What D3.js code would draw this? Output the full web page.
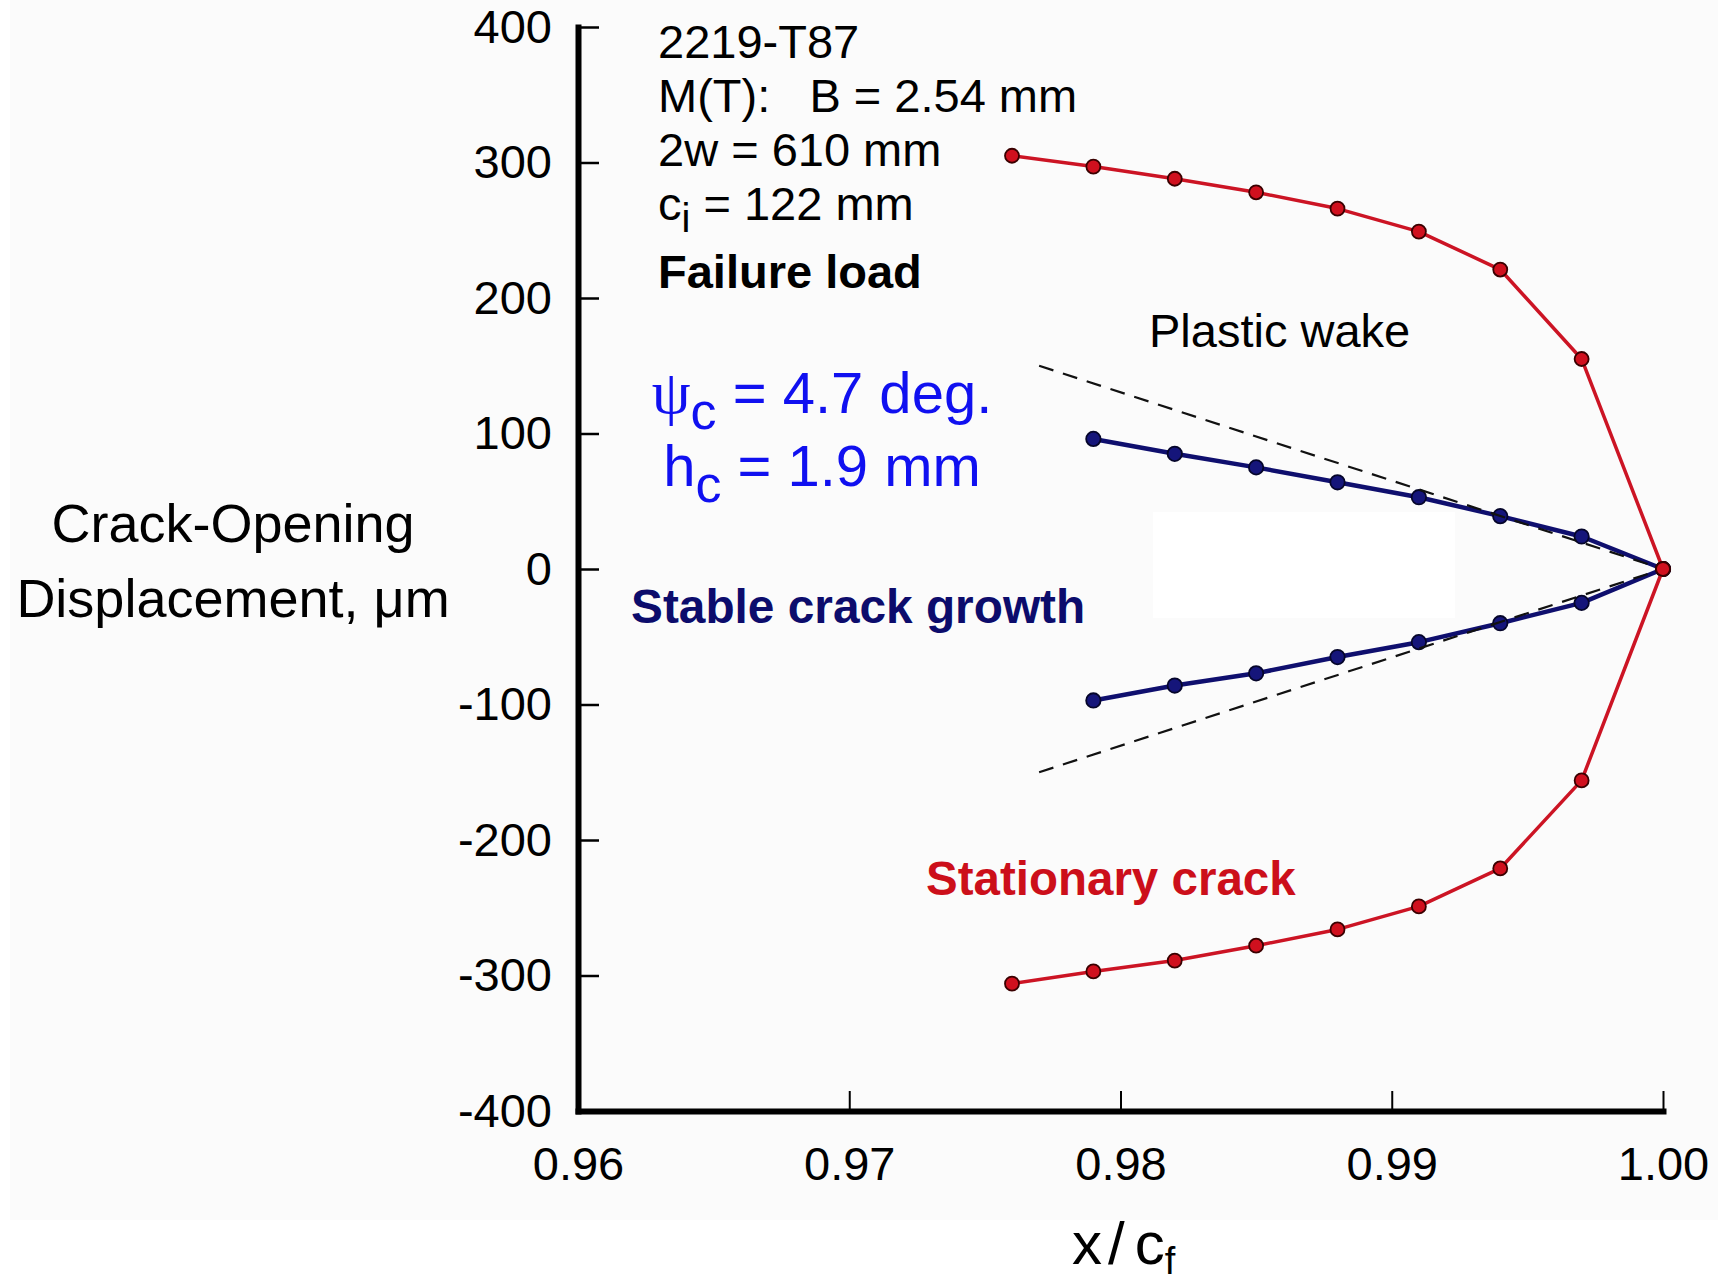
<!DOCTYPE html>
<html>
<head>
<meta charset="utf-8">
<script src="https://cdn.jsdelivr.net/npm/d3@7"></script>
<style>
  body { margin: 0; background: #fff; }
  text { font-family: "Liberation Sans", Arial, sans-serif; }
</style>
</head>
<body>
<svg id="chart" width="1718" height="1284"></svg>
<script>
// x/c_f positions of the measured points
var xStationary = [0.976, 0.979, 0.982, 0.985, 0.988, 0.991, 0.994, 0.997, 1.000];
var codStationaryUpper = [305, 297, 288, 278, 266, 249, 221, 155, 0];
var codStationaryLower = [-306, -297, -289, -278, -266, -249, -221, -156, 0];

var xGrowth = [0.979, 0.982, 0.985, 0.988, 0.991, 0.994, 0.997, 1.000];
var codGrowthUpper = [96, 85, 75, 64, 53, 39, 24, 0];
var codGrowthLower = [-97, -86, -77, -65, -54, -40, -25, 0];

// CTOA reference (dashed)
var xCtoa = [0.977, 1.000];
var codCtoaUpper = [150, 0];
var codCtoaLower = [-150, 0];

var xTicks = [0.96, 0.97, 0.98, 0.99, 1.00];
var yTicks = [-400, -300, -200, -100, 0, 100, 200, 300, 400];

var svg = d3.select('#chart');

// faint scan background
svg.append('rect').attr('x', 10).attr('y', 0).attr('width', 1708).attr('height', 1220).attr('fill', '#fbfbfb');
svg.append('rect').attr('x', 1153).attr('y', 512).attr('width', 302).attr('height', 106).attr('fill', '#ffffff');

var x = d3.scaleLinear().domain([0.96, 1.0]).range([578, 1663]);
var y = d3.scaleLinear().domain([-400, 400]).range([1111, 27]);

var yAxis = svg.append('g')
  .attr('transform', 'translate(' + x(0.96) + ',0)')
  .call(d3.axisLeft(y).tickValues(yTicks).tickSizeInner(-21).tickSizeOuter(0)
    .tickPadding(26).tickFormat(function(d) { return String(d); }));

var xAxis = svg.append('g')
  .attr('transform', 'translate(0,' + y(-400) + ')')
  .call(d3.axisBottom(x).tickValues(xTicks).tickSizeInner(-20).tickSizeOuter(0)
    .tickPadding(36).tickFormat(d3.format('.2f')));

[yAxis, xAxis].forEach(function(ax) {
  ax.select('.domain').attr('stroke', '#000').attr('stroke-width', 6).attr('stroke-linecap', 'square');
  ax.selectAll('.tick line').attr('stroke', '#000').attr('stroke-width', 2.5);
  ax.selectAll('.tick text').attr('fill', '#000')
    .style('font-family', '"Liberation Sans", Arial, sans-serif').style('font-size', '47px');
});
xAxis.selectAll('.tick line').attr('stroke-width', 2);

var line = d3.line().x(function(d) { return x(d[0]); }).y(function(d) { return y(d[1]); });

function series(xs, ys, color, width, markFill, markStroke, r) {
  var pts = d3.zip(xs, ys);
  svg.append('path').datum(pts).attr('d', line)
    .attr('fill', 'none').attr('stroke', color).attr('stroke-width', width).attr('stroke-linejoin', 'round');
  svg.append('g').selectAll('circle').data(pts).enter().append('circle')
    .attr('cx', function(d) { return x(d[0]); })
    .attr('cy', function(d) { return y(d[1]); })
    .attr('r', r).attr('fill', markFill).attr('stroke', markStroke).attr('stroke-width', 1.8);
}

// stable crack growth
series(xGrowth, codGrowthUpper, '#0f0f6e', 4.5, '#15157a', '#05052a', 7.2);
series(xGrowth, codGrowthLower, '#0f0f6e', 4.5, '#15157a', '#05052a', 7.2);

// dashed CTOA lines
[codCtoaUpper, codCtoaLower].forEach(function(ys) {
  svg.append('path').datum(d3.zip(xCtoa, ys)).attr('d', line)
    .attr('fill', 'none').attr('stroke', '#111').attr('stroke-width', 2.2).attr('stroke-dasharray', '15,10');
});

// stationary crack
series(xStationary, codStationaryUpper, '#cc1424', 3.5, '#d0101e', '#3a0000', 7);
series(xStationary, codStationaryLower, '#cc1424', 3.5, '#d0101e', '#3a0000', 7);

// info block
var info = svg.append('g').attr('font-size', 47).attr('fill', '#000');
info.append('text').attr('x', 658).attr('y', 58).text('2219-T87');
info.append('text').attr('x', 658).attr('y', 112).attr('xml:space', 'preserve').style('white-space', 'pre')
  .text('M(T):   B = 2.54 mm');
info.append('text').attr('x', 658).attr('y', 166).text('2w = 610 mm');
var ci = info.append('text').attr('x', 658).attr('y', 220);
ci.append('tspan').text('c');
ci.append('tspan').attr('dy', 12).attr('font-size', 40).text('i');
ci.append('tspan').attr('dy', -12).text(' = 122 mm');
info.append('text').attr('x', 658).attr('y', 288).attr('font-weight', 'bold').text('Failure load');

svg.append('text').attr('x', 1149).attr('y', 347).attr('font-size', 47).attr('fill', '#000').text('Plastic wake');

// CTOA / height annotation
var ann = svg.append('g').attr('font-size', 58).attr('fill', '#1010f0').attr('text-anchor', 'middle');
var l1 = ann.append('text').attr('x', 822).attr('y', 413);
l1.append('tspan').style('font-family', '"Liberation Serif", "DejaVu Serif", serif').attr('font-size', 62).text('ψ');
l1.append('tspan').attr('dy', 16).attr('font-size', 52).text('c');
l1.append('tspan').attr('dy', -16).text(' = 4.7 deg.');
var l2 = ann.append('text').attr('x', 822).attr('y', 486);
l2.append('tspan').text('h');
l2.append('tspan').attr('dy', 16).attr('font-size', 52).text('c');
l2.append('tspan').attr('dy', -16).text(' = 1.9 mm');

svg.append('text').attr('x', 631).attr('y', 623).attr('font-size', 47.8).attr('font-weight', 'bold')
  .attr('fill', '#0c0c6c').text('Stable crack growth');
svg.append('text').attr('x', 926).attr('y', 895).attr('font-size', 47.5).attr('font-weight', 'bold')
  .attr('fill', '#cc0f1a').text('Stationary crack');

// axis titles
var yt = svg.append('text').attr('font-size', 54).attr('fill', '#000').attr('text-anchor', 'middle');
yt.append('tspan').attr('x', 233).attr('y', 542).text('Crack-Opening');
yt.append('tspan').attr('x', 233).attr('y', 617).text('Displacement, μm');

var xt = svg.append('text').attr('x', 1072).attr('y', 1264).attr('font-size', 60).attr('fill', '#000');
xt.append('tspan').text('x');
xt.append('tspan').attr('dx', 6).text('/');
xt.append('tspan').attr('dx', 10).text('c');
xt.append('tspan').attr('dy', 10).attr('font-size', 38).text('f');
</script>
</body>
</html>
